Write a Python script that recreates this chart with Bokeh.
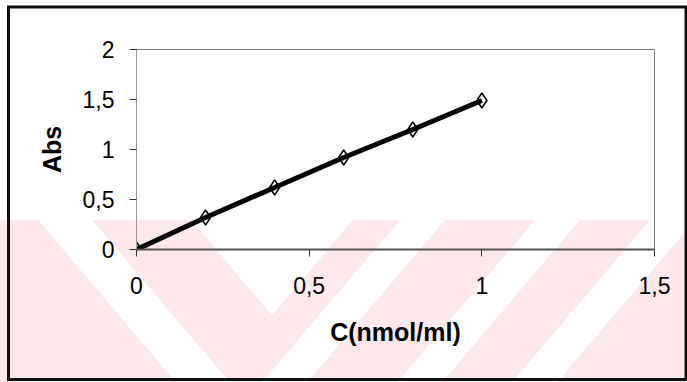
from urllib.parse import quote
from bokeh.plotting import figure
from bokeh.models import Range1d, FixedTicker
from bokeh.embed import file_html
from bokeh.resources import INLINE

# ---------------- data ----------------
conc = [0.0, 0.2, 0.4, 0.6, 0.8, 1.0]
absorb = [0.0, 0.32, 0.62, 0.92, 1.20, 1.49]
x_ticks = [0, 0.5, 1, 1.5]
x_tick_labels = ["0", "0,5", "1", "1,5"]
y_ticks = [0, 0.5, 1, 1.5, 2]
y_tick_labels = ["0", "0,5", "1", "1,5", "2"]
x_title = "C(nmol/ml)"
y_title = "Abs"

# ---------------- layout ----------------
W, H = 687, 382
FL, FR, FT, FB = 136, 654, 49, 249
XMAX, YMAX = 1.5, 2.0

p = figure(width=W, height=H, output_backend="svg", toolbar_location=None,
           x_range=Range1d(0, XMAX), y_range=Range1d(0, YMAX),
           min_border_left=FL, min_border_right=W - FR,
           min_border_top=FT, min_border_bottom=H - FB)
p.xgrid.visible = False
p.ygrid.visible = False
p.background_fill_color = None
p.border_fill_color = None
p.outline_line_color = "#808080"
p.outline_line_width = 1

# ---------------- page decoration: scanned-page watermark + outer frame ----------------
PINK = "#fde8ec"
band_top, band_bot = 220, H
s = 0.85
d = s * (band_bot - band_top)


def pts(lst):
    return " ".join(f"{a:.1f},{b:.1f}" for a, b in lst)


shapes = [f"<rect x='0' y='{band_top}' width='{W}' height='{band_bot - band_top}' fill='{PINK}'/>"]
white_polys = [[(38, band_top), (92, band_top), (92 + d, band_bot), (38 + d, band_bot)]]
tip_t = (353 - 191) / (2 * s)
white_polys.append([(191, band_top), (353, band_top), (191 + s * tip_t, band_top + tip_t)])
for a, b in [(400, 445), (535, 580), (650, 695)]:
    white_polys.append([(a, band_top), (b, band_top), (b - d, band_bot), (a - d, band_bot)])
for poly in white_polys:
    shapes.append(f"<polygon points='{pts(poly)}' fill='white'/>")
shapes.append("<rect x='8.5' y='7' width='677.5' height='372.5' fill='none' stroke='#111111' stroke-width='3'/>")
svg = (f"<svg xmlns='http://www.w3.org/2000/svg' width='{W}' height='{H}'>"
       f"<rect width='{W}' height='{H}' fill='white'/>" + "".join(shapes) + "</svg>")
p.styles = {
    "background-image": f'url("data:image/svg+xml,{quote(svg)}")',
    "background-repeat": "no-repeat",
    "background-size": f"{W}px {H}px",
}

# ---------------- axes ----------------
for ax, ticks, labels in [(p.xaxis[0], x_ticks, x_tick_labels), (p.yaxis[0], y_ticks, y_tick_labels)]:
    ax.ticker = FixedTicker(ticks=ticks)
    ax.major_label_overrides = dict(zip(ticks, labels))
    ax.minor_tick_line_color = None
    ax.major_tick_in = 0
    ax.major_tick_out = 7
    ax.major_tick_line_color = "#333333"
    ax.major_label_text_font = "Liberation Sans"
    ax.major_label_text_font_size = "23px"
    ax.major_label_text_color = "black"
    ax.axis_label_text_font = "Liberation Sans"
    ax.axis_label_text_font_style = "bold"
    ax.axis_label_text_font_size = "25px"
    ax.axis_label_text_color = "black"

p.xaxis.axis_label = x_title
p.yaxis.axis_label = y_title
p.xaxis.axis_line_color = "#555555"
p.xaxis.axis_line_width = 2
p.yaxis.axis_line_color = "#999999"
p.yaxis.axis_line_width = 1
p.xaxis.major_label_standoff = 20
p.xaxis.axis_label_standoff = 21
p.yaxis.major_label_standoff = 15
p.yaxis.axis_label_standoff = 14

# ---------------- data marks ----------------
p.line(conc, absorb, line_color="black", line_width=5)
p.scatter(conc, absorb, marker="diamond", size=15, fill_color=None,
          line_color="black", line_width=1.5)

open("out.html", "w").write(file_html(p, INLINE))
